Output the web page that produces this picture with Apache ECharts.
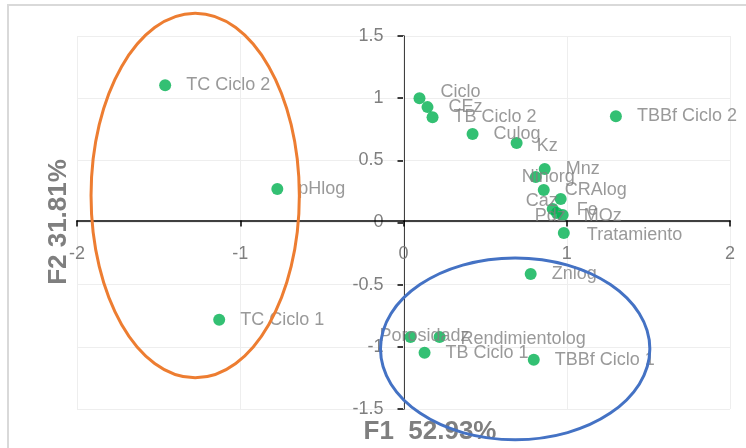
<!DOCTYPE html>
<html>
<head>
<meta charset="utf-8">
<script src="https://cdn.jsdelivr.net/npm/echarts@6/dist/echarts.min.js"></script>
<style>
  html, body { margin: 0; padding: 0; background: #ffffff; }
  #chart { width: 746px; height: 448px; }
</style>
</head>
<body>
<div id="chart"></div>
<script>
// Variables and observations on the first two factorial axes
const pointNames = [
  'TC Ciclo 2', 'pHlog', 'TC Ciclo 1', 'Ciclo', 'CEz', 'TB Ciclo 2', 'Culog', 'Kz',
  'Mnz', 'Ninorg', 'CRAlog', 'Fe', 'Caz', 'MOz', 'Pdz', 'Tratamiento', 'Znlog',
  'Porosidadz', 'Rendimientolog', 'TB Ciclo 1', 'TBBf Ciclo 1', 'TBBf Ciclo 2'
];
const f1Scores = [
  -1.460, -0.773, -1.129, 0.098, 0.147, 0.178, 0.423, 0.693,
  0.865, 0.810, 0.859, 0.963, 0.914, 0.975, 0.939, 0.982, 0.779,
  0.043, 0.221, 0.129, 0.798, 1.301
];
const f2Scores = [
  1.104, 0.269, -0.783, 1.000, 0.928, 0.847, 0.711, 0.639,
  0.430, 0.365, 0.261, 0.189, 0.108, 0.060, 0.076, -0.084, -0.414,
  -0.920, -0.920, -1.048, -1.104, 0.855
];

const axisTitleX = 'F1  52.93%';
const axisTitleY = 'F2 31.81%';

// Grouping ellipses, in axis units: [centre F1, centre F2, radius F1, radius F2]
const groupLeft = [-1.276, 0.217, 0.638, 1.466];
const groupRight = [0.684, -1.016, 0.825, 0.731];

// Hand placement of crowded labels (pixels)
const labelShift = {
  'Ciclo': [0, -6],
  'Kz': [-1, 3],
  'Ninorg': [-35, 0],
  'Caz': [-48, -8],
  'Pdz': [-43, 3],
  'Fe': [-5, 11],
  'MOz': [0, 1],
  'Porosidadz': [-52, -1],
  'Tratamiento': [2, 2],
  'Rendimientolog': [0, 2]
};

const GREY = '#7f7f7f';
const FONT = '"Liberation Sans", Arial, sans-serif';

const seriesData = pointNames.map((name, i) => {
  const item = { name: name, value: [f1Scores[i], f2Scores[i]] };
  if (labelShift[name]) item.label = { offset: labelShift[name] };
  return item;
});

const chart = echarts.init(document.getElementById('chart'), null, { renderer: 'canvas' });

const GRID = { left: 77, right: 16, top: 36, bottom: 39 };

const option = {
  animation: false,
  backgroundColor: '#ffffff',
  grid: Object.assign({ containLabel: false }, GRID),
  xAxis: {
    type: 'value',
    position: 'bottom',
    min: -2, max: 2, interval: 1,
    axisLine: { onZero: false, lineStyle: { color: '#000000', width: 1.5 } },
    axisTick: { show: true, length: 6, lineStyle: { color: '#000000', width: 1.5 } },
    axisLabel: { color: GREY, fontSize: 18, fontFamily: FONT, margin: 25, hideOverlap: false },
    splitLine: { show: true, lineStyle: { color: '#eeeeee', width: 1 } },
    z: 2
  },
  yAxis: {
    type: 'value',
    position: 'left',
    min: -1.5, max: 1.5, interval: 0.5,
    axisLine: { onZero: false, lineStyle: { color: '#000000', width: 1.5 } },
    axisTick: { show: true, length: 6, lineStyle: { color: '#000000', width: 1.5 } },
    axisLabel: { color: GREY, fontSize: 18, fontFamily: FONT, margin: 20, hideOverlap: false },
    splitLine: { show: true, lineStyle: { color: '#eeeeee', width: 1 } },
    z: 1
  },
  series: [{
    type: 'scatter',
    symbol: 'circle',
    symbolSize: 12,
    itemStyle: { color: '#00b050' },
    label: {
      show: true,
      position: 'right',
      distance: 15,
      formatter: '{b}',
      color: GREY,
      fontSize: 18,
      fontFamily: FONT
    },
    data: seriesData,
    z: 3
  }]
};

chart.setOption(option);

// Move both axes (line, ticks and labels) so they cross at the origin
const origin = chart.convertToPixel({ gridIndex: 0 }, [0, 0]);
const gridBottomPx = 448 - GRID.bottom;
chart.setOption({
  xAxis: { offset: -(gridBottomPx - origin[1]) },
  yAxis: { offset: -(origin[0] - GRID.left) }
});

// Ellipses and axis titles placed from the axis scales
function ellipseGraphic(spec, color, id) {
  const c = chart.convertToPixel({ gridIndex: 0 }, [spec[0], spec[1]]);
  const e = chart.convertToPixel({ gridIndex: 0 }, [spec[0] + spec[2], spec[1] + spec[3]]);
  return {
    id: id,
    type: 'ellipse',
    shape: { cx: c[0], cy: c[1], rx: Math.abs(e[0] - c[0]), ry: Math.abs(e[1] - c[1]) },
    style: { fill: 'none', stroke: color, lineWidth: 3 },
    z: 10,
    silent: true
  };
}

chart.setOption({
  graphic: [
    {
      id: 'frame', type: 'rect',
      shape: { x: 8, y: 5, width: 760, height: 470 },
      style: { fill: 'none', stroke: '#d9d9d9', lineWidth: 2 },
      z: 0, silent: true
    },
    ellipseGraphic(groupLeft, '#ed7d31', 'groupLeft'),
    ellipseGraphic(groupRight, '#4472c4', 'groupRight'),
    {
      id: 'titleX', type: 'text', x: 430, y: 432,
      style: {
        text: axisTitleX, fill: GREY, font: 'bold 26px ' + FONT,
        textAlign: 'center', textVerticalAlign: 'middle'
      },
      z: 5
    },
    {
      id: 'titleY', type: 'text', x: 59, y: 222, rotation: Math.PI / 2,
      style: {
        text: axisTitleY, fill: GREY, font: 'bold 26px ' + FONT,
        textAlign: 'center', textVerticalAlign: 'middle'
      },
      z: 5
    }
  ]
});
</script>
</body>
</html>
